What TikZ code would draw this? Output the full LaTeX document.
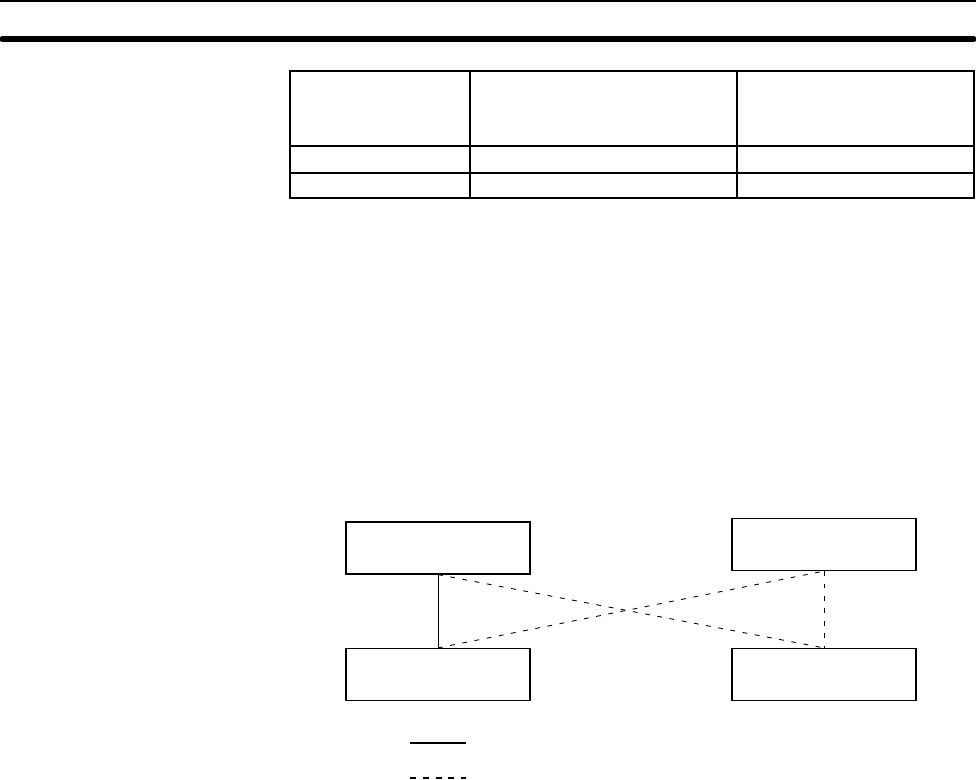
\documentclass[tikz,border=0pt]{standalone}
\usetikzlibrary{positioning}

\begin{document}
\begin{tikzpicture}[
    x=0.25mm, y=-0.25mm, line width=0.3mm,
    unitbox/.style={draw, rectangle, minimum width=46mm, minimum height=13mm, inner sep=0pt},
    linkdash/.style={line width=0.22mm, dash pattern=on 1.2mm off 1.9mm}
]
\useasboundingbox (0,0) rectangle (976,780);
% page header rules
\draw[line width=0.5mm] (0,1) -- (976,1);
\draw[line width=1.3mm, line cap=round] (2,39) -- (974,39);
% table
\draw[line width=0.6mm] (290,71) rectangle (974,198);
\draw[line width=0.4mm] (470,71) -- (470,198);
\draw[line width=0.4mm] (737,71) -- (737,198);
\draw[line width=0.5mm] (290,146) -- (974,146);
\draw[line width=0.4mm] (290,173) -- (974,173);

\node (unit_a_top) [unitbox] at (438,548) {};
\node (unit_a_bottom) [unitbox] at (438,674.5) {};
\node (unit_b_top) [unitbox] at (824,544.5) {};
\node (unit_b_bottom) [unitbox] at (824,674.5) {};
\draw[line width=0.22mm] (unit_a_top.south) -- (unit_a_bottom.north);
\draw[linkdash] (unit_a_top.south) -- (unit_b_bottom.north);
\draw[linkdash] (unit_a_bottom.north) -- (unit_b_top.south);
\draw[linkdash] (unit_b_top.south) -- (unit_b_bottom.north);

% legend
\coordinate (solid_from) at (410,743);
\coordinate (solid_to) at (466,743);
\coordinate (dash_from) at (410,778);
\coordinate (dash_to) at (466,778);
\draw[line width=0.5mm] (solid_from) -- (solid_to);
\draw[line width=0.5mm, dash pattern=on 1.5mm off 1.7mm] (dash_from) -- (dash_to);
\end{tikzpicture}
\end{document}
